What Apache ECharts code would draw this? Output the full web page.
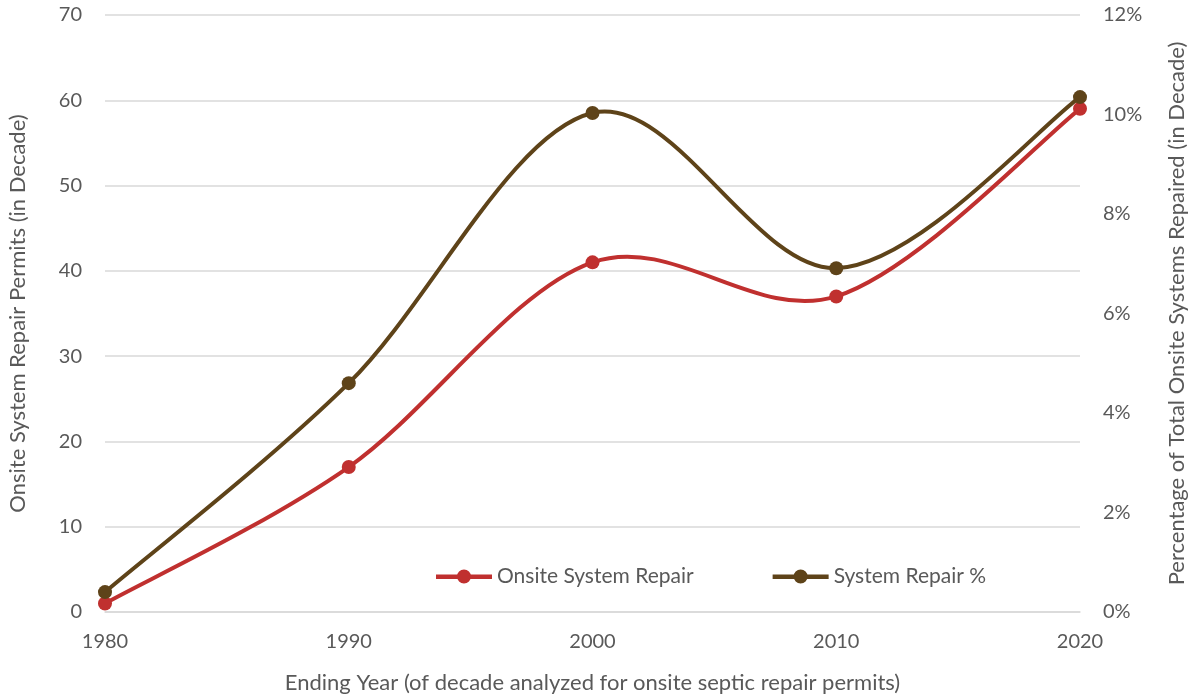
<!DOCTYPE html>
<html>
<head>
<meta charset="utf-8">
<script src="https://cdn.jsdelivr.net/npm/echarts@6/dist/echarts.min.js"></script>
<style>
  html, body { margin: 0; padding: 0; background: #fff; }
  #chart { width: 1190px; height: 695px; }
</style>
</head>
<body>
<div id="chart"></div>
<script>
// Decade-ending years
const years = ['1980', '1990', '2000', '2010', '2020'];
// Repair permits issued in each decade
const repairPermits = [1, 17, 41, 37, 59];
// Share of all onsite systems repaired in the decade (%)
const repairPercent = [0.4, 4.6, 10.03, 6.91, 10.35];
// Axis ticks
const permitTicks = { min: 0, max: 70, interval: 10 };
const percentTicks = { min: 0, max: 12, interval: 2 };

const FONT = 'Lato, "Open Sans", sans-serif';
const TEXT = '#595959';
const RED = '#C0302F';
const BROWN = '#5E4319';

// Legend glyph: thick line with a dot in the middle
const LINE_ICON = 'path://M0,5 L56,5 L56,9.5 L0,9.5 Z M21,7 A7,7 0 1,1 35,7 A7,7 0 1,1 21,7 Z';

// Catmull-Rom style smoothed curve drawn in pixel space from the axis scales
function smoothCurve(values, color) {
  return function (params, api) {
    if (params.dataIndex !== 0) return null;
    const pts = values.map((v, i) => api.coord([i, v]));
    const children = [];
    for (let i = 0; i < pts.length - 1; i++) {
      const p0 = pts[Math.max(i - 1, 0)];
      const p1 = pts[i];
      const p2 = pts[i + 1];
      const p3 = pts[Math.min(i + 2, pts.length - 1)];
      children.push({
        type: 'bezierCurve',
        shape: {
          x1: p1[0], y1: p1[1],
          cpx1: p1[0] + (p2[0] - p0[0]) / 6, cpy1: p1[1] + (p2[1] - p0[1]) / 6,
          cpx2: p2[0] - (p3[0] - p1[0]) / 6, cpy2: p2[1] - (p3[1] - p1[1]) / 6,
          x2: p2[0], y2: p2[1]
        },
        style: { stroke: color, lineWidth: 4, fill: null, lineCap: 'round' }
      });
    }
    return { type: 'group', children };
  };
}

const chart = echarts.init(document.getElementById('chart'));
chart.setOption({
  animation: false,
  textStyle: { fontFamily: FONT, color: TEXT },
  grid: { left: 105, right: 110, top: 15, bottom: 83, containLabel: false, outerBoundsMode: 'none' },
  legend: {
    left: 431, top: 561,
    itemWidth: 56, itemHeight: 14, itemGap: 79,
    textStyle: { fontFamily: FONT, fontSize: 21, color: TEXT },
    data: [
      { name: 'Onsite System Repair', icon: LINE_ICON },
      { name: 'System Repair %', icon: LINE_ICON }
    ]
  },
  xAxis: {
    type: 'category',
    data: years,
    boundaryGap: false,
    axisLine: { show: true, lineStyle: { color: '#D9D9D9', width: 1.5 } },
    axisTick: { show: false },
    axisLabel: { fontSize: 20, color: TEXT, margin: 20, fontFamily: FONT },
    name: 'Ending Year (of decade analyzed for onsite septic repair permits)',
    nameLocation: 'middle', nameGap: 60,
    nameTextStyle: { fontSize: 22, color: TEXT, fontFamily: FONT }
  },
  yAxis: [
    {
      type: 'value',
      min: permitTicks.min, max: permitTicks.max, interval: permitTicks.interval,
      axisLine: { show: false }, axisTick: { show: false },
      splitLine: { lineStyle: { color: '#D9D9D9', width: 1.5 } },
      axisLabel: { fontSize: 20, color: TEXT, margin: 23, fontFamily: FONT },
      name: 'Onsite System Repair Permits (in Decade)',
      nameLocation: 'middle', nameGap: 76, nameRotate: 90,
      nameTextStyle: { fontSize: 22, color: TEXT, fontFamily: FONT }
    },
    {
      type: 'value',
      min: percentTicks.min, max: percentTicks.max, interval: percentTicks.interval,
      axisLine: { show: false }, axisTick: { show: false },
      splitLine: { show: false },
      axisLabel: { fontSize: 20, color: TEXT, margin: 23, fontFamily: FONT, formatter: '{value}%' },
      name: 'Percentage of Total Onsite Systems Repaired (in Decade)',
      nameLocation: 'middle', nameGap: 86, nameRotate: 90,
      nameTextStyle: { fontSize: 22, color: TEXT, fontFamily: FONT }
    }
  ],
  series: [
    {
      name: 'Onsite System Repair curve',
      type: 'custom', yAxisIndex: 0,
      data: repairPermits.map((v, i) => [i, v]),
      renderItem: smoothCurve(repairPermits, RED),
      z: 2
    },
    {
      name: 'System Repair % curve',
      type: 'custom', yAxisIndex: 1,
      data: repairPercent.map((v, i) => [i, v]),
      renderItem: smoothCurve(repairPercent, BROWN),
      z: 2
    },
    {
      name: 'Onsite System Repair',
      type: 'line', yAxisIndex: 0,
      data: repairPermits,
      symbol: 'circle', symbolSize: 14,
      lineStyle: { width: 0, opacity: 0 },
      itemStyle: { color: RED },
      z: 3
    },
    {
      name: 'System Repair %',
      type: 'line', yAxisIndex: 1,
      data: repairPercent,
      symbol: 'circle', symbolSize: 14,
      lineStyle: { width: 0, opacity: 0 },
      itemStyle: { color: BROWN },
      z: 4
    }
  ]
});
</script>
</body>
</html>
